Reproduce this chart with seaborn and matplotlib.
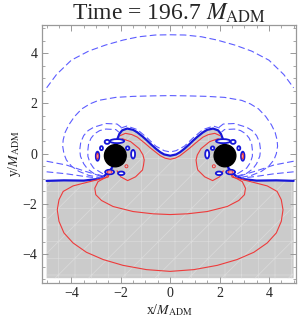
"""
Binary black hole snapshot: contour lines of the field at t = 196.7 M_ADM.
Contour paths and loop markers read off the reference image.
"""
import matplotlib
matplotlib.use("Agg")
import matplotlib.pyplot as plt
from matplotlib.patches import Ellipse, Circle
import numpy as np
import pandas as pd
import seaborn as sns

# ---- data (left half / left hole; the configuration is mirror symmetric) ----
HOLE_CENTERS = [(-2.22, -0.08), (2.22, -0.08)]
HOLE_RADIUS = 0.44

# zero contour, from the left edge to x = 0
SOLID_HALF = [(-5.0, -1.08), (-4.3, -1.06), (-3.5, -1.07), (-2.97, -1.01),
              (-2.69, -0.9), (-2.5, -0.75), (-2.35, -0.55), (-2.25, -0.2),
              (-2.17, 0.3), (-2.13, 0.6), (-2.05, 0.8), (-1.94, 0.93),
              (-1.74, 1.0), (-1.5, 0.95), (-1.33, 0.85), (-1.1, 0.67),
              (-0.93, 0.52), (-0.75, 0.35), (-0.58, 0.2), (-0.4, 0.06),
              (-0.24, -0.03), (0.0, -0.08)]

# dashed (positive) contours spanning both holes
OUTER_ARC_HALF = [(-5.0, 2.62), (-4.6, 3.15), (-4.0, 3.72), (-3.3, 4.08),
                  (-2.62, 4.32), (-1.9, 4.52), (-1.27, 4.65), (-0.6, 4.72),
                  (0.0, 4.73)]
MID_ARC_HALF = [(-2.72, -0.97), (-3.3, -0.86), (-3.7, -0.7), (-3.99, -0.5),
                (-4.2, -0.25), (-4.3, 0.0), (-4.35, 0.3), (-4.33, 0.55),
                (-4.25, 0.85), (-4.1, 1.15), (-3.87, 1.48), (-3.58, 1.78),
                (-3.25, 1.98), (-2.9, 2.12), (-2.2, 2.24), (-1.5, 2.28),
                (-0.7, 2.3), (0.0, 2.31)]
WAVE_DASH_HALF = [(-2.0, 1.02), (-1.75, 1.1), (-1.33, 0.96), (-0.93, 0.63),
                  (-0.58, 0.3), (-0.24, 0.12), (0.0, 0.07)]

# dashed contours around the left hole
HOLE_ARC_A = [(-2.68, -0.9), (-3.1, -0.78), (-3.35, -0.6), (-3.5, -0.4),
              (-3.63, -0.1), (-3.66, 0.15), (-3.62, 0.45), (-3.5, 0.72),
              (-3.32, 0.92), (-3.1, 1.05), (-2.6, 1.2), (-2.15, 1.18),
              (-1.98, 1.05)]
HOLE_ARC_B = [(-2.72, -0.8), (-3.1, -0.57), (-3.25, -0.35), (-3.33, -0.1),
              (-3.33, 0.15), (-3.3, 0.4), (-3.2, 0.62), (-3.05, 0.8),
              (-2.85, 0.92), (-2.6, 0.98), (-2.2, 0.96), (-2.08, 0.86)]
EDGE_DASH_A = [(-5.0, -0.3), (-4.2, -0.45), (-3.5, -0.68), (-3.0, -0.83),
               (-2.72, -0.93)]
EDGE_DASH_B = [(-5.0, -0.72), (-4.2, -0.8), (-3.5, -0.9), (-2.9, -0.97)]

# red (negative) contours
RED_WAVE_HALF = [(-2.02, 0.72), (-1.81, 0.81), (-1.55, 0.76), (-1.33, 0.66),
                 (-1.05, 0.44), (-0.79, 0.22), (-0.4, -0.08), (-0.2, -0.18),
                 (0.0, -0.22)]
RED_BIG_HALF = [(-2.45, -0.75), (-2.51, -0.93), (-3.25, -1.11), (-3.93, -1.28),
                (-4.33, -1.5), (-4.5, -1.83), (-4.57, -2.23), (-4.5, -2.69),
                (-4.3, -3.15), (-3.93, -3.55), (-3.39, -3.92), (-2.71, -4.21),
                (-1.91, -4.44), (-0.96, -4.61), (0.0, -4.68)]
RED_U_HALF = [(-2.4, -0.72), (-2.58, -0.93), (-2.92, -1.11), (-3.05, -1.37),
              (-3.01, -1.63), (-2.78, -1.86), (-2.31, -2.1), (-1.5, -2.3),
              (-0.7, -2.39), (0.0, -2.42)]
RED_SIDE = [(-1.95, 0.6), (-1.6, 0.48), (-1.25, 0.2), (-1.1, -0.05),
            (-1.05, -0.25), (-1.08, -0.47), (-1.12, -0.65), (-1.4, -0.92),
            (-1.72, -1.07), (-2.0, -0.92), (-2.15, -0.68)]

# small closed loops of the zero contour around the left hole: x, y, w, h
RING_X = [-2.15, -2.55, -2.78, -2.94, -1.72, -1.5, -2.45, -1.98]
RING_Y = [0.5, 0.47, 0.22, -0.1, 0.22, -0.02, -0.73, -0.78]
RING_W = [0.58, 0.2, 0.12, 0.14, 0.14, 0.16, 0.36, 0.26]
RING_H = [0.16, 0.16, 0.16, 0.36, 0.14, 0.34, 0.18, 0.14]
# small red loops near the left hole
RED_LOOP_X = [-2.94, -2.45, -1.77]
RED_LOOP_Y = [-0.1, -0.73, -0.5]
RED_LOOP_W = [0.06, 0.2, 0.12]
RED_LOOP_H = [0.22, 0.08, 0.12]

TITLE = "Time = 196.7 $M_{\\rm ADM}$"
XLABEL = "x/$M_{\\rm ADM}$"
YLABEL = "y/$M_{\\rm ADM}$"
MAJOR_TICKS = [-4, -2, 0, 2, 4]

BLUE = "#1616d8"
BLUE_DASH = "#5c5cff"
RED = "#ee3b3b"
GREY = "#cbcbcb"


def symmetric(half):
    # half runs from its left end to x = 0; add the mirror image
    return half + [(-x, y) for x, y in reversed(half[:-1])]


def mirror(pts):
    return [(-x, y) for x, y in pts]


hole_dashes = (HOLE_ARC_A, HOLE_ARC_B, EDGE_DASH_A, EDGE_DASH_B)
curves = {
    "solid": [symmetric(SOLID_HALF)],
    "dashed": [symmetric(OUTER_ARC_HALF), symmetric(MID_ARC_HALF),
               symmetric(WAVE_DASH_HALF)]
              + list(hole_dashes) + [mirror(c) for c in hole_dashes],
    "red": [symmetric(RED_WAVE_HALF), symmetric(RED_BIG_HALF),
            symmetric(RED_U_HALF), RED_SIDE, mirror(RED_SIDE)],
}

rows = []
n = 0
for kind, lst in curves.items():
    for pts in lst:
        for x, y in pts:
            rows.append({"x": x, "y": y, "kind": kind, "curve": n})
        n += 1
df = pd.DataFrame(rows)

sns.set_style("ticks")
plt.rcParams["font.family"] = ["Liberation Serif", "DejaVu Serif"]
plt.rcParams["mathtext.fontset"] = "stix"
plt.rcParams["hatch.linewidth"] = 0.5

fig = plt.figure(figsize=(3.0, 3.2), dpi=100)
ax = fig.add_axes([0.139, 0.115, 0.848, 0.807])

# shaded (negative) region below the zero contour
poly = symmetric(SOLID_HALF) + [(5.0, -4.95), (-5.0, -4.95)]
px, py = zip(*poly)
ax.fill(px, py, facecolor=GREY, edgecolor="#dbdbdb", linewidth=0,
        hatch="+/", zorder=0)

sns.lineplot(data=df, x="x", y="y", units="curve", estimator=None, sort=False,
             hue="kind", style="kind", size="kind",
             palette={"solid": BLUE, "dashed": BLUE_DASH, "red": RED},
             dashes={"solid": "", "dashed": (6, 3), "red": ""},
             sizes={"solid": 1.6, "dashed": 0.8, "red": 0.8},
             legend=False, ax=ax)

for sgn in (1, -1):
    for x, y, w, h in zip(RING_X, RING_Y, RING_W, RING_H):
        ax.add_patch(Ellipse((sgn * x, y), w, h, facecolor="white",
                             edgecolor=BLUE, lw=1.3, zorder=3))
    for x, y, w, h in zip(RED_LOOP_X, RED_LOOP_Y, RED_LOOP_W, RED_LOOP_H):
        ax.add_patch(Ellipse((sgn * x, y), w, h, facecolor="none",
                             edgecolor=RED, lw=0.7, zorder=4))

for cx, cy in HOLE_CENTERS:
    ax.add_patch(Circle((cx, cy), HOLE_RADIUS, color="black", zorder=5))

ax.set_xlim(-5.2, 5.1)
ax.set_ylim(-5.15, 5.12)
ax.set_xticks(MAJOR_TICKS)
ax.set_yticks(MAJOR_TICKS)
ax.set_xticks(np.arange(-5, 5.01, 0.5), minor=True)
ax.set_yticks(np.arange(-5, 5.01, 0.5), minor=True)
ax.tick_params(which="both", direction="in", top=True, right=True,
               color="#999999", labelsize=10, pad=3)
ax.tick_params(which="major", length=4, width=0.7)
ax.tick_params(which="minor", length=2.2, width=0.6)
for sp in ax.spines.values():
    sp.set_color("#999999")
    sp.set_linewidth(0.9)

ax.set_title(TITLE, fontsize=17, pad=2)
ax.set_xlabel(XLABEL, fontsize=10, labelpad=1)
ax.set_ylabel(YLABEL, fontsize=10, labelpad=0)

fig.savefig("out.png", dpi=100)
